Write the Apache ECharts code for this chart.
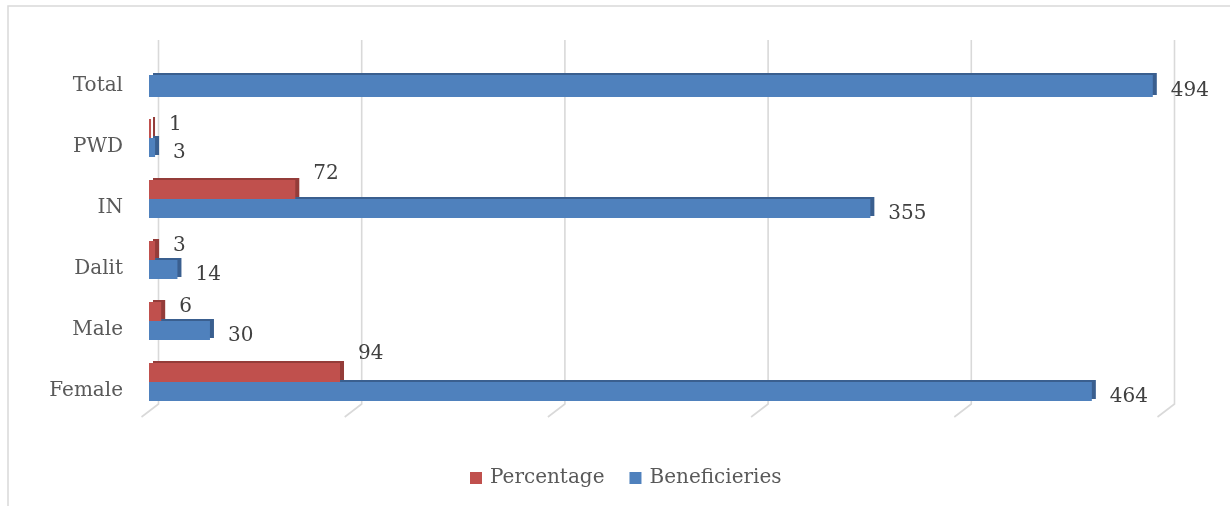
<!DOCTYPE html>
<html>
<head>
<meta charset="utf-8">
<title>Beneficiaries</title>
<script src="https://cdn.jsdelivr.net/npm/echarts@6/dist/echarts.min.js"></script>
<style>
  html, body { margin: 0; padding: 0; background: #ffffff; }
  #chart { width: 1230px; height: 506px; }
</style>
</head>
<body>
<div id="chart"></div>
<script>
// Category labels, bottom to top
const categories = ['Female', 'Male', 'Dalit', 'IN', 'PWD', 'Total'];
// Series values (null = no bar for that category)
const percentage = [94, 6, 3, 72, 1, null];
const beneficiaries = [464, 30, 14, 355, 3, 494];
// Value-axis gridline positions
const gridTicks = [0, 100, 200, 300, 400, 500];

const RED = '#C0504D', RED_SIDE = '#943C39';
const BLUE = '#4F81BD', BLUE_SIDE = '#3A5F8F';
const FONT = 'DejaVu Serif';

const isTotal = i => categories[i] === 'Total';

// Paired bars (everything but Total) and the single Total bar
const pairBenef = beneficiaries.map((v, i) => (isTotal(i) || v == null) ? '-' : v);
const pairPct = percentage.map(v => v == null ? '-' : v);
const totalBenef = beneficiaries.map((v, i) => isTotal(i) ? v : '-');

// Percentage labels sit a little higher the longer the bar is (3D perspective)
const pctData = pairPct.map(v => v === '-' ? v : {
  value: v,
  label: { offset: [13, -(4 + v * 0.16)] }
});

// Flat face plus a darker offset copy that reads as the top and end faces
const blockStyle = (face, side) => ({
  color: face,
  shadowColor: side,
  shadowBlur: 0,
  shadowOffsetX: 4,
  shadowOffsetY: -2
});

const valueLabel = (offset) => ({
  show: true,
  position: 'right',
  distance: 5,
  offset: offset,
  fontFamily: FONT,
  fontSize: 20,
  color: '#404040'
});

const chart = echarts.init(document.getElementById('chart'), null, { renderer: 'canvas' });

const hiddenValueAxis = (gridIndex) => ({
  type: 'value', gridIndex, min: 0, max: 500, interval: 100,
  axisLine: { show: false }, axisTick: { show: false },
  axisLabel: { show: false }, splitLine: { show: false }
});

chart.setOption({
  backgroundColor: '#ffffff',
  animation: false,
  graphic: [{
    type: 'rect',
    shape: { x: 8, y: 6, width: 1240, height: 520 },
    style: { fill: null, stroke: '#D9D9D9', lineWidth: 1.5 },
    silent: true, z: -10
  }],
  legend: {
    data: ['Percentage', 'Beneficieries'],
    left: 465,
    top: 463,
    icon: 'rect',
    itemWidth: 12,
    itemHeight: 12,
    itemGap: 25,
    textStyle: { fontFamily: FONT, fontSize: 20, color: '#595959', padding: [0, 0, 0, 3] }
  },
  grid: [
    // paired bars
    { left: 149, width: 1016, top: 46.5, bottom: 93.5 },
    // Total bar and category labels, centred slightly below the pairs
    { left: 149, width: 1016, top: 55.5, bottom: 84.5 },
    // back-wall gridlines
    { left: 158.5, width: 1016, top: 40, bottom: 102 }
  ],
  xAxis: [hiddenValueAxis(0), hiddenValueAxis(1), hiddenValueAxis(2)],
  yAxis: [
    {
      type: 'category', gridIndex: 0, data: categories,
      axisLine: { show: false }, axisTick: { show: false }, axisLabel: { show: false }
    },
    {
      type: 'category', gridIndex: 1, data: categories,
      axisLine: { show: false }, axisTick: { show: false },
      axisLabel: { margin: 26, fontFamily: FONT, fontSize: 20, color: '#595959' }
    },
    {
      type: 'value', gridIndex: 2, min: 0, max: 1,
      axisLine: { show: false }, axisTick: { show: false },
      axisLabel: { show: false }, splitLine: { show: false }
    }
  ],
  series: [
    {
      name: 'gridlines',
      type: 'custom',
      xAxisIndex: 2, yAxisIndex: 2,
      silent: true,
      z: 0,
      data: gridTicks.map(v => [v]),
      encode: { x: 0 },
      renderItem: function (params, api) {
        const x = api.coord([api.value(0), 0])[0];
        const cs = params.coordSys;
        const top = cs.y, bottom = cs.y + cs.height;
        return {
          type: 'polyline',
          shape: { points: [[x, top], [x, bottom], [x - 17, bottom + 13]] },
          style: { stroke: '#D9D9D9', lineWidth: 1.6, fill: null }
        };
      }
    },
    {
      name: 'Percentage',
      type: 'bar',
      xAxisIndex: 0, yAxisIndex: 0,
      data: pctData,
      barWidth: 19,
      barGap: '0%',
      z: 4,
      itemStyle: blockStyle(RED, RED_SIDE),
      label: valueLabel([13, -8])
    },
    {
      name: 'Beneficieries',
      type: 'bar',
      xAxisIndex: 0, yAxisIndex: 0,
      data: pairBenef,
      barWidth: 19,
      barGap: '0%',
      z: 3,
      itemStyle: blockStyle(BLUE, BLUE_SIDE),
      label: valueLabel([13, 5])
    },
    {
      name: 'Beneficieries',
      type: 'bar',
      xAxisIndex: 1, yAxisIndex: 1,
      data: totalBenef,
      barWidth: 22,
      z: 3,
      itemStyle: blockStyle(BLUE, BLUE_SIDE),
      label: valueLabel([13, 5])
    }
  ]
});
</script>
</body>
</html>
